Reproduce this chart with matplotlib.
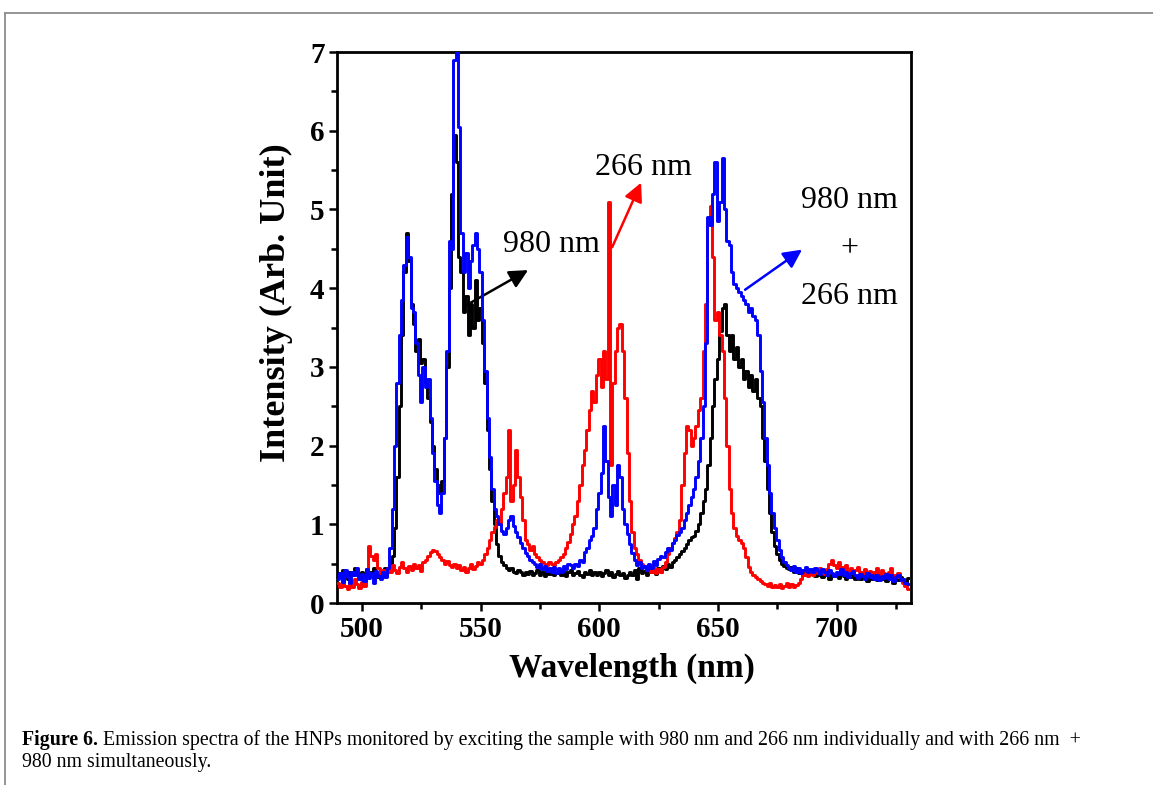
import numpy as np
import matplotlib
matplotlib.use("Agg")
import matplotlib.pyplot as plt
from matplotlib.lines import Line2D

# Emission spectra, sampled every 1 nm from 490 to 730 nm
wavelength = np.arange(490, 731)

ex_980 = [
    0.38, 0.33, 0.42, 0.36, 0.30, 0.40, 0.35, 0.44, 0.37, 0.32,
    0.40, 0.36, 0.43, 0.34, 0.39, 0.45, 0.37, 0.33, 0.41, 0.38,
    0.44, 0.40, 0.47, 0.60, 0.95, 1.60, 2.50, 3.40, 4.20, 4.70,
    4.35, 3.80, 3.55, 3.20, 3.35, 3.05, 3.10, 2.80, 2.60, 2.30,
    2.00, 1.70, 1.50, 1.40, 1.55, 2.10, 3.00, 4.00, 5.20, 5.95,
    5.60, 4.40, 4.20, 3.70, 3.90, 3.40, 3.80, 3.50, 4.10, 3.60,
    3.75, 3.30, 2.80, 2.20, 1.70, 1.30, 1.00, 0.75, 0.60, 0.52,
    0.48, 0.45, 0.42, 0.44, 0.40, 0.38, 0.42, 0.39, 0.36, 0.40,
    0.37, 0.41, 0.35, 0.38, 0.42, 0.36, 0.40, 0.34, 0.39, 0.37,
    0.41, 0.35, 0.38, 0.43, 0.36, 0.40, 0.34, 0.39, 0.42, 0.35,
    0.38, 0.41, 0.36, 0.33, 0.40, 0.37, 0.42, 0.35, 0.39, 0.36,
    0.40, 0.34, 0.38, 0.42, 0.35, 0.39, 0.33, 0.37, 0.41, 0.36,
    0.38, 0.32, 0.36, 0.40, 0.35, 0.42, 0.30, 0.45, 0.38, 0.41,
    0.36, 0.44, 0.39, 0.42, 0.37, 0.45, 0.40, 0.47, 0.43, 0.50,
    0.46, 0.52, 0.55, 0.58, 0.62, 0.66, 0.70, 0.75, 0.80, 0.84,
    0.85, 0.92, 1.00, 1.15, 1.30, 1.45, 1.75, 2.10, 2.50, 2.85,
    3.10, 3.45, 3.75, 3.80, 3.40, 3.20, 3.40, 3.10, 3.25, 3.00,
    3.10, 2.85, 2.95, 2.75, 2.90, 2.70, 2.85, 2.60, 2.50, 2.10,
    1.80, 1.45, 1.15, 0.90, 0.72, 0.62, 0.55, 0.50, 0.47, 0.45,
    0.43, 0.46, 0.40, 0.44, 0.38, 0.42, 0.36, 0.40, 0.35, 0.39,
    0.37, 0.34, 0.40, 0.36, 0.33, 0.38, 0.35, 0.31, 0.37, 0.34,
    0.36, 0.32, 0.38, 0.34, 0.30, 0.35, 0.33, 0.37, 0.31, 0.34,
    0.30, 0.35, 0.32, 0.28, 0.34, 0.31, 0.36, 0.29, 0.33, 0.30,
    0.34, 0.28, 0.32, 0.35, 0.26, 0.31, 0.29, 0.33, 0.30, 0.27,
    0.32,
]

ex_266 = [
    0.25, 0.20, 0.28, 0.22, 0.18, 0.26, 0.21, 0.30, 0.24, 0.19,
    0.27, 0.22, 0.35, 0.72, 0.60, 0.55, 0.62, 0.45, 0.38, 0.42,
    0.36, 0.45, 0.40, 0.48, 0.42, 0.38, 0.46, 0.52, 0.44, 0.40,
    0.47, 0.42, 0.50, 0.44, 0.48, 0.41, 0.52, 0.55, 0.60, 0.65,
    0.68, 0.66, 0.62, 0.58, 0.55, 0.50, 0.53, 0.48, 0.46, 0.50,
    0.44, 0.48, 0.42, 0.46, 0.40, 0.45, 0.49, 0.43, 0.47, 0.52,
    0.50, 0.55, 0.62, 0.70, 0.80, 0.90, 0.96, 1.05, 1.00, 1.20,
    1.40, 1.60, 2.20, 1.30, 1.50, 1.95, 1.60, 1.35, 1.05, 0.80,
    0.75, 0.68, 0.72, 0.62, 0.58, 0.55, 0.52, 0.50, 0.48, 0.52,
    0.50, 0.48, 0.52, 0.55, 0.58, 0.62, 0.70, 0.78, 0.88, 1.00,
    1.10, 1.30, 1.50, 1.75, 1.95, 2.20, 2.45, 2.70, 2.55, 2.90,
    3.10, 2.75, 3.20, 2.85, 5.10, 1.75, 2.80, 3.20, 3.50, 3.55,
    3.20, 2.60, 1.90, 1.30, 0.90, 0.70, 0.62, 0.55, 0.50, 0.46,
    0.42, 0.48, 0.40, 0.45, 0.38, 0.43, 0.40, 0.46, 0.52, 0.62,
    0.70, 0.76, 0.82, 0.90, 1.05, 1.50, 1.90, 2.25, 2.20, 2.00,
    2.10, 2.25, 2.45, 2.60, 3.20, 3.80, 4.80, 5.05, 4.40, 3.60,
    3.70, 3.40, 3.20, 2.60, 2.00, 1.45, 1.15, 0.95, 0.85, 0.80,
    0.76, 0.70, 0.58, 0.46, 0.40, 0.36, 0.33, 0.30, 0.28, 0.25,
    0.24, 0.22, 0.25, 0.20, 0.23, 0.21, 0.24, 0.19, 0.22, 0.25,
    0.21, 0.24, 0.20, 0.23, 0.26, 0.30, 0.35, 0.38, 0.34, 0.40,
    0.36, 0.42, 0.38, 0.44, 0.40, 0.37, 0.43, 0.50, 0.55, 0.48,
    0.45, 0.52, 0.46, 0.42, 0.48, 0.40, 0.44, 0.38, 0.42, 0.46,
    0.40, 0.36, 0.43, 0.38, 0.41, 0.35, 0.39, 0.44, 0.37, 0.42,
    0.38, 0.34, 0.40, 0.45, 0.36, 0.33, 0.38, 0.30, 0.26, 0.22,
    0.18,
]

ex_both = [
    0.30, 0.38, 0.27, 0.42, 0.33, 0.25, 0.40, 0.35, 0.45, 0.30,
    0.37, 0.28, 0.43, 0.32, 0.38, 0.26, 0.41, 0.34, 0.30, 0.39,
    0.33, 0.45, 0.70, 1.20, 2.00, 2.80, 3.40, 3.85, 4.30, 4.65,
    4.40, 3.75, 3.70, 3.30, 2.90, 2.55, 3.00, 2.75, 2.85, 2.35,
    1.90, 1.55, 1.25, 1.15, 1.40, 2.10, 3.20, 4.60, 4.50, 6.90,
    7.00, 6.05, 4.70, 4.20, 4.45, 4.00, 4.35, 4.55, 4.70, 4.50,
    4.20, 3.60, 2.95, 2.35, 1.85, 1.45, 1.20, 1.10, 1.00, 0.92,
    0.88, 0.95, 1.05, 1.10, 0.98, 0.90, 0.84, 0.76, 0.70, 0.64,
    0.60, 0.55, 0.52, 0.49, 0.46, 0.50, 0.43, 0.47, 0.41, 0.45,
    0.40, 0.46, 0.38, 0.44, 0.40, 0.47, 0.43, 0.50, 0.48, 0.45,
    0.50, 0.47, 0.55, 0.52, 0.65, 0.70, 0.80, 0.85, 0.95, 1.20,
    1.40, 1.65, 2.25, 1.80, 1.35, 1.10, 1.50, 1.25, 1.75, 1.60,
    1.20, 1.00, 0.88, 0.75, 0.63, 0.55, 0.48, 0.52, 0.44, 0.47,
    0.42, 0.50, 0.45, 0.53, 0.48, 0.56, 0.60, 0.58, 0.65, 0.70,
    0.68, 0.76, 0.80, 0.86, 0.90, 0.95, 1.05, 1.15, 1.25, 1.35,
    1.45, 1.60, 1.80, 2.10, 2.50, 3.30, 4.90, 4.80, 5.20, 5.60,
    4.85, 5.10, 5.65, 5.00, 4.60, 4.55, 4.20, 4.05, 4.00, 3.95,
    3.90, 3.85, 3.80, 3.70, 3.75, 3.65, 3.60, 3.40, 2.95, 2.55,
    2.10, 1.75, 1.40, 1.15, 0.95, 0.80, 0.68, 0.58, 0.52, 0.48,
    0.45, 0.42, 0.47, 0.40, 0.44, 0.38, 0.42, 0.46, 0.40, 0.43,
    0.39, 0.45, 0.41, 0.37, 0.43, 0.40, 0.36, 0.42, 0.38, 0.34,
    0.40, 0.37, 0.43, 0.35, 0.39, 0.33, 0.38, 0.41, 0.35, 0.32,
    0.37, 0.34, 0.30, 0.38, 0.33, 0.36, 0.31, 0.35, 0.29, 0.34,
    0.32, 0.37, 0.30, 0.35, 0.28, 0.33, 0.36, 0.29, 0.31, 0.26,
    0.24,
]

x_major = [500, 550, 600, 650, 700]
y_major = [0, 1, 2, 3, 4, 5, 6, 7]

SERIF = ["Liberation Serif", "DejaVu Serif"]

fig = plt.figure(figsize=(11.53, 7.85), dpi=100)
ax = fig.add_axes([0.2923, 0.2318, 0.4978, 0.7019])

ax.plot(wavelength, ex_980, color="black", lw=2.1, drawstyle="steps-mid", zorder=2)
ax.plot(wavelength, ex_266, color="#ff0000", lw=2.1, drawstyle="steps-mid", zorder=3)
ax.plot(wavelength, ex_both, color="#0000ff", lw=2.1, drawstyle="steps-mid", zorder=4)

ax.set_xlim(489.5, 731.3)
ax.set_ylim(0, 7)
ax.set_xticks(x_major)
ax.set_xticks([525, 575, 625, 675, 725], minor=True)
ax.set_yticks(y_major)
ax.set_yticks(np.arange(0.5, 7, 1.0), minor=True)

for s in ax.spines.values():
    s.set_linewidth(2.0)
ax.tick_params(which="both", direction="out", width=1.8, top=False, right=False)
ax.tick_params(which="major", length=6, pad=3)
ax.tick_params(which="minor", length=4)
for lab in ax.get_xticklabels() + ax.get_yticklabels():
    lab.set_fontfamily(SERIF)
    lab.set_fontweight("bold")
    lab.set_fontsize(21)

ax.set_xlabel("Wavelength (nm)", fontfamily=SERIF, fontweight="bold", fontsize=24)
ax.set_ylabel("Intensity (Arb. Unit)", fontfamily=SERIF, fontweight="bold", fontsize=26)
ax.xaxis.set_label_coords(0.514, -0.118)
ax.yaxis.set_label_coords(-0.105, 0.546)
ax.xaxis.label.set_va("center")
ax.yaxis.label.set_va("center")

# Excitation labels with arrows pointing to each spectrum
label_kw = dict(fontfamily=SERIF, fontsize=23, ha="center", va="center")
arrow_kw = dict(arrowstyle="-|>", lw=1.8, mutation_scale=28, shrinkA=0, shrinkB=0)

ax.text(579.7, 4.55, "980 nm", color="black", **label_kw)
ax.annotate("", xy=(570.0, 4.23), xytext=(544.3, 3.79),
            arrowprops=dict(color="black", **arrow_kw))

ax.text(618.5, 5.53, "266 nm", color="black", **label_kw)
ax.annotate("", xy=(617.6, 5.34), xytext=(605.4, 4.52),
            arrowprops=dict(color="#ff0000", **arrow_kw))

ax.text(705.3, 5.12, "980 nm", color="black", **label_kw)
ax.text(705.3, 4.50, "+", color="black", **label_kw)
ax.text(705.3, 3.90, "266 nm", color="black", **label_kw)
ax.annotate("", xy=(685.4, 4.49), xytext=(661.4, 3.98),
            arrowprops=dict(color="#0000ff", **arrow_kw))

# Page frame
frame_kw = dict(color="#8c8c8c", lw=1.3, transform=fig.transFigure)
fig.add_artist(Line2D([5 / 1153, 1.0], [1 - 13 / 785, 1 - 13 / 785], **frame_kw))
fig.add_artist(Line2D([5 / 1153, 5 / 1153], [0.0, 1 - 13 / 785], **frame_kw))

# Caption
CAP_SIZE = 14.3
cap_kw = dict(fontfamily=SERIF, fontsize=CAP_SIZE, va="baseline")
head = fig.text(22 / 1153, 1 - 745 / 785, "Figure 6.", fontweight="bold", **cap_kw)
ax.annotate(" Emission spectra of the HNPs monitored by exciting the sample with 980 nm "
            "and 266 nm individually and with 266 nm  +",
            xy=(1, 0), xycoords=head, va="bottom", ha="left",
            fontfamily=SERIF, fontsize=CAP_SIZE, annotation_clip=False)
fig.text(22 / 1153, 1 - 767 / 785, "980 nm simultaneously.", **cap_kw)

fig.savefig("out.png", dpi=100)
